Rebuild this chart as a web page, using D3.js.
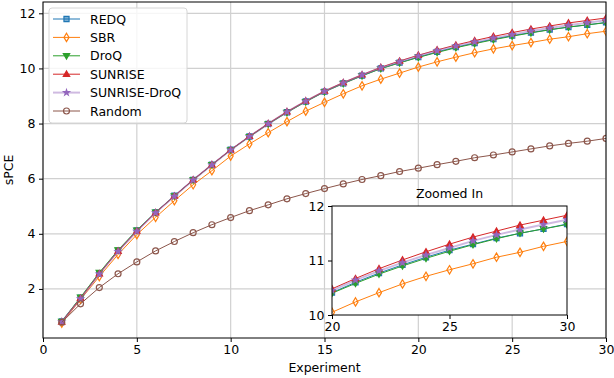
<!DOCTYPE html>
<html>
<head>
<meta charset="utf-8">
<script src="https://cdn.jsdelivr.net/npm/d3@7"></script>
<style>
  body { margin: 0; background: #fff; }
  svg text { font-family: "DejaVu Sans", sans-serif; fill: #000; }
</style>
</head>
<body>
<svg width="614" height="378"></svg>
<script>
"use strict";

const experiments = d3.range(1, 31);
const xTicks = [0, 5, 10, 15, 20, 25, 30];
const yTicks = [2, 4, 6, 8, 10, 12];
const insetXTicks = [20, 25, 30];
const insetYTicks = [10, 11, 12];

const redq = [0.82, 1.68, 2.57, 3.39, 4.12, 4.78, 5.38, 5.96, 6.51, 7.05, 7.53, 7.99, 8.41, 8.80, 9.16,
    9.46, 9.74, 10.00, 10.21, 10.41, 10.60, 10.77, 10.92, 11.06, 11.19, 11.30, 11.41, 11.50, 11.58, 11.67];
const sbr = [0.76, 1.62, 2.45, 3.25, 3.97, 4.60, 5.20, 5.78, 6.29, 6.82, 7.26, 7.67, 8.07, 8.45, 8.77,
    9.08, 9.37, 9.61, 9.83, 10.05, 10.24, 10.41, 10.57, 10.71, 10.83, 10.94, 11.06, 11.15, 11.26, 11.35];
const droq = [0.82, 1.70, 2.59, 3.41, 4.13, 4.78, 5.37, 5.95, 6.50, 7.04, 7.52, 7.98, 8.40, 8.79, 9.15,
    9.45, 9.73, 9.99, 10.20, 10.40, 10.58, 10.75, 10.90, 11.04, 11.17, 11.29, 11.40, 11.50, 11.58, 11.66];
const sunrise = [0.80, 1.66, 2.55, 3.37, 4.10, 4.77, 5.37, 5.96, 6.51, 7.05, 7.54, 8.00, 8.43, 8.82, 9.18,
    9.49, 9.77, 10.04, 10.27, 10.48, 10.67, 10.85, 11.01, 11.16, 11.30, 11.43, 11.54, 11.65, 11.74, 11.83];
const sunriseDroq = [0.81, 1.64, 2.54, 3.36, 4.09, 4.76, 5.36, 5.95, 6.50, 7.04, 7.53, 7.99, 8.42, 8.81, 9.17,
    9.47, 9.76, 10.02, 10.24, 10.45, 10.64, 10.81, 10.96, 11.10, 11.23, 11.36, 11.47, 11.57, 11.66, 11.75];
const random = [0.79, 1.46, 2.05, 2.55, 2.98, 3.38, 3.72, 4.04, 4.33, 4.59, 4.84, 5.05, 5.27, 5.46, 5.64,
    5.81, 5.97, 6.11, 6.26, 6.38, 6.51, 6.63, 6.76, 6.86, 6.97, 7.08, 7.19, 7.28, 7.36, 7.46];

const seriesNames = ["REDQ", "SBR", "DroQ", "SUNRISE", "SUNRISE-DroQ", "Random"];
const seriesValues = [redq, sbr, droq, sunrise, sunriseDroq, random];

// styles per series (tab10 colours, matplotlib-like markers)
const styles = [
    {color: "#1f77b4", marker: "square", fill: "#1f77b4", fillOpacity: 0.6, lw: 1, lineOpacity: 1},
    {color: "#ff7f0e", marker: "thinDiamond", fill: "none", fillOpacity: 1, lw: 1, lineOpacity: 1},
    {color: "#2ca02c", marker: "triangleDown", fill: "#2ca02c", fillOpacity: 1, lw: 1, lineOpacity: 1},
    {color: "#d62728", marker: "triangleUp", fill: "#d62728", fillOpacity: 1, lw: 1, lineOpacity: 1},
    {color: "#9467bd", marker: "star", fill: "#9467bd", fillOpacity: 1, lw: 2, lineOpacity: 0.45},
    {color: "#8c564b", marker: "circle", fill: "none", fillOpacity: 1, lw: 1, lineOpacity: 1}
];

const series = seriesNames.map((name, i) => ({
    name: name,
    style: styles[i],
    points: experiments.map((e, j) => ({x: e, y: seriesValues[i][j]}))
}));

const svg = d3.select("svg");
const defs = svg.append("defs");
const fontSize = 12.5;

// custom marker shapes
const thinDiamond = {
    draw(ctx, size) {
        const h = Math.sqrt(size) * 0.42, w = h * 0.6;
        ctx.moveTo(0, -h); ctx.lineTo(w, 0); ctx.lineTo(0, h); ctx.lineTo(-w, 0); ctx.closePath();
    }
};
const triangleDown = {
    draw(ctx, size) {
        const r = Math.sqrt(size) * 0.5;
        ctx.moveTo(-r, -r * 0.7); ctx.lineTo(r, -r * 0.7); ctx.lineTo(0, r); ctx.closePath();
    }
};
const triangleUp = {
    draw(ctx, size) {
        const r = Math.sqrt(size) * 0.5;
        ctx.moveTo(-r, r * 0.7); ctx.lineTo(r, r * 0.7); ctx.lineTo(0, -r); ctx.closePath();
    }
};
function markerType(name) {
    if (name === "square") return d3.symbolSquare;
    if (name === "thinDiamond") return thinDiamond;
    if (name === "triangleDown") return triangleDown;
    if (name === "triangleUp") return triangleUp;
    if (name === "star") return d3.symbolStar;
    return d3.symbolCircle;
}
function markerSize(name) {
    if (name === "square") return 26;
    if (name === "thinDiamond") return 100;
    if (name === "star") return 10;
    if (name === "circle") return 28;
    return 40;
}

function drawSeries(g, x, y) {
    const line = d3.line().x(d => x(d.x)).y(d => y(d.y));
    series.forEach(s => {
        const sg = g.append("g");
        sg.append("path")
            .attr("d", line(s.points))
            .attr("fill", "none")
            .attr("stroke", s.style.color)
            .attr("stroke-width", s.style.lw)
            .attr("stroke-opacity", s.style.lineOpacity);
        sg.selectAll("path.mk")
            .data(s.points)
            .enter().append("path")
            .attr("class", "mk")
            .attr("transform", d => "translate(" + x(d.x) + "," + y(d.y) + ")")
            .attr("d", d3.symbol().type(markerType(s.style.marker)).size(markerSize(s.style.marker)))
            .attr("fill", s.style.fill)
            .attr("fill-opacity", s.style.fillOpacity)
            .attr("stroke", s.style.color)
            .attr("stroke-width", 1.2);
    });
}

// ---- main axes
const plotLeft = 43, plotRight = 606, plotTop = 2, plotBottom = 338;
const x = d3.scaleLinear().domain([0, 30]).range([plotLeft, plotRight]);
const y = d3.scaleLinear().domain([0.22, 12.41]).range([plotBottom, plotTop]);

defs.append("clipPath").attr("id", "mainClip")
    .append("rect").attr("x", plotLeft).attr("y", plotTop)
    .attr("width", plotRight - plotLeft).attr("height", plotBottom - plotTop);

const grid = svg.append("g").attr("stroke", "#d0d0d0").attr("stroke-width", 1.2);
xTicks.forEach(t => grid.append("line").attr("x1", x(t)).attr("x2", x(t)).attr("y1", plotTop).attr("y2", plotBottom));
yTicks.forEach(t => grid.append("line").attr("x1", plotLeft).attr("x2", plotRight).attr("y1", y(t)).attr("y2", y(t)));

drawSeries(svg.append("g").attr("clip-path", "url(#mainClip)"), x, y);

svg.append("g")
    .attr("transform", "translate(0," + plotBottom + ")")
    .call(d3.axisBottom(x).tickValues(xTicks).tickSize(4).tickPadding(3.5))
    .call(g => g.select(".domain").remove())
    .selectAll("text").attr("font-size", fontSize);
svg.append("g")
    .attr("transform", "translate(" + plotLeft + ",0)")
    .call(d3.axisLeft(y).tickValues(yTicks).tickSize(4).tickPadding(3.5))
    .call(g => g.select(".domain").remove())
    .selectAll("text").attr("font-size", fontSize);

svg.append("rect")
    .attr("x", plotLeft).attr("y", plotTop).attr("width", plotRight - plotLeft).attr("height", plotBottom - plotTop)
    .attr("fill", "none").attr("stroke", "#000").attr("stroke-width", 1);

svg.append("text").attr("x", (plotLeft + plotRight) / 2).attr("y", 372)
    .attr("text-anchor", "middle").attr("font-size", fontSize).text("Experiment");
svg.append("text").attr("transform", "translate(13," + (plotTop + plotBottom) / 2 + ") rotate(-90)")
    .attr("text-anchor", "middle").attr("font-size", fontSize).text("sPCE");

// ---- legend
const legend = svg.append("g");
legend.append("rect")
    .attr("x", 49).attr("y", 8).attr("width", 138).attr("height", 115).attr("rx", 3)
    .attr("fill", "#fff").attr("fill-opacity", 0.8).attr("stroke", "#d6d6d6");
series.forEach((s, i) => {
    const ly = 19 + i * 18.4;
    const lg = legend.append("g");
    lg.append("line").attr("x1", 53).attr("x2", 80).attr("y1", ly).attr("y2", ly)
        .attr("stroke", s.style.color).attr("stroke-width", s.style.lw).attr("stroke-opacity", s.style.lineOpacity);
    lg.append("path")
        .attr("transform", "translate(66.5," + ly + ")")
        .attr("d", d3.symbol().type(markerType(s.style.marker)).size(markerSize(s.style.marker)))
        .attr("fill", s.style.fill).attr("fill-opacity", s.style.fillOpacity)
        .attr("stroke", s.style.color).attr("stroke-width", 1.2);
    lg.append("text").attr("x", 90).attr("y", ly).attr("dy", "0.36em")
        .attr("font-size", fontSize).text(s.name);
});

// ---- inset
const iLeft = 332, iRight = 567, iTop = 206, iBottom = 315;
const xi = d3.scaleLinear().domain([20, 30]).range([iLeft, iRight]);
const yi = d3.scaleLinear().domain([10, 12]).range([iBottom, iTop]);

defs.append("clipPath").attr("id", "insetClip")
    .append("rect").attr("x", iLeft).attr("y", iTop).attr("width", iRight - iLeft).attr("height", iBottom - iTop);

svg.append("rect")
    .attr("x", iLeft).attr("y", iTop).attr("width", iRight - iLeft).attr("height", iBottom - iTop)
    .attr("fill", "#fff");
drawSeries(svg.append("g").attr("clip-path", "url(#insetClip)"), xi, yi);

svg.append("g")
    .attr("transform", "translate(0," + iBottom + ")")
    .call(d3.axisBottom(xi).tickValues(insetXTicks).tickFormat(d3.format("d")).tickSize(4).tickPadding(3.5))
    .call(g => g.select(".domain").remove())
    .selectAll("text").attr("font-size", fontSize);
svg.append("g")
    .attr("transform", "translate(" + iLeft + ",0)")
    .call(d3.axisLeft(yi).tickValues(insetYTicks).tickFormat(d3.format("d")).tickSize(4).tickPadding(3.5))
    .call(g => g.select(".domain").remove())
    .selectAll("text").attr("font-size", fontSize);
svg.append("rect")
    .attr("x", iLeft).attr("y", iTop).attr("width", iRight - iLeft).attr("height", iBottom - iTop)
    .attr("fill", "none").attr("stroke", "#000").attr("stroke-width", 1);
svg.append("text").attr("x", (iLeft + iRight) / 2).attr("y", 198)
    .attr("text-anchor", "middle").attr("font-size", fontSize).text("Zoomed In");
</script>
</body>
</html>
